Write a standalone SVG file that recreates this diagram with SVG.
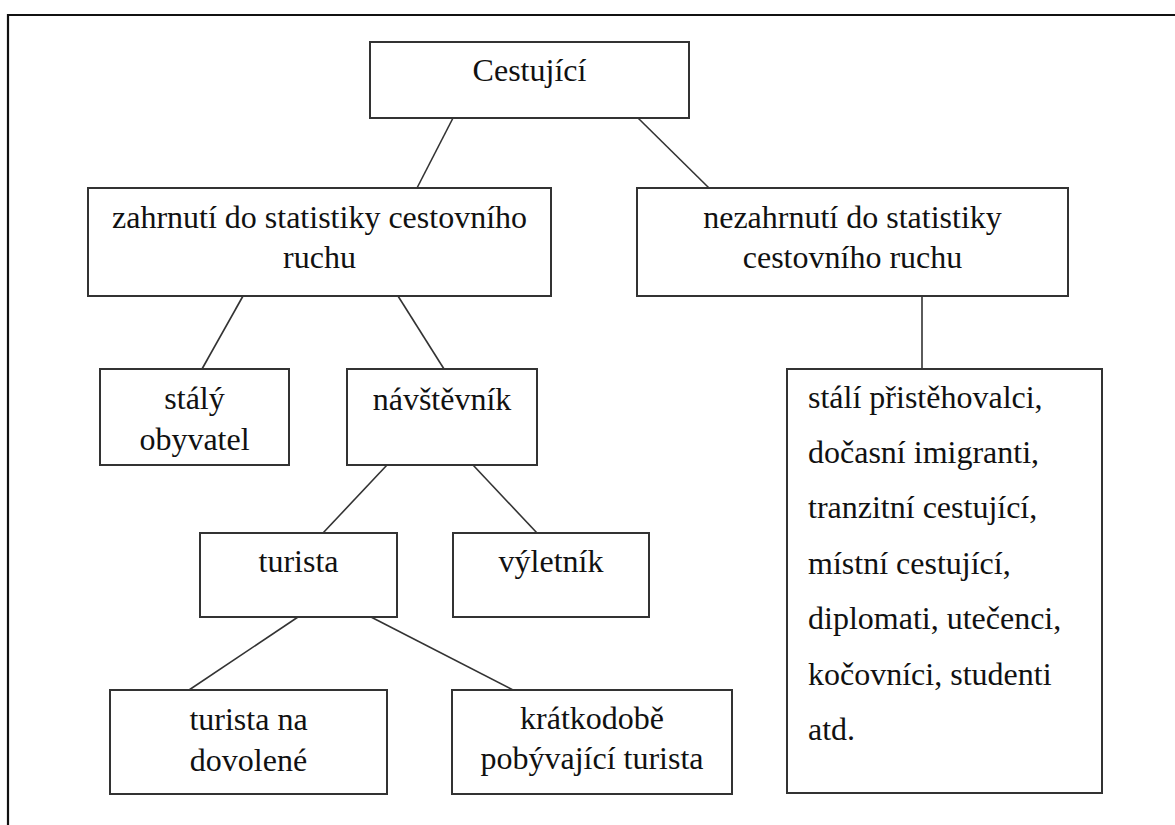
<svg xmlns="http://www.w3.org/2000/svg" width="1175" height="825" viewBox="0 0 1175 825">
<style>
.box{fill:#fff;stroke:#333;stroke-width:2}
.frame{fill:none;stroke:#111;stroke-width:2.2}
.con line{stroke:#333;stroke-width:1.6}
text{font-family:"Liberation Serif","Times New Roman",serif;font-size:32px;fill:#111}
.c{text-anchor:middle}
</style>
<rect width="1175" height="825" fill="#fff"/>
<path class="frame" d="M8,825 V15 H1175"/>
<g id="connectors" class="con">
<line x1="453" y1="118" x2="417" y2="188"/>
<line x1="638" y1="118" x2="709" y2="188"/>
<line x1="243" y1="296" x2="202" y2="369"/>
<line x1="398" y1="296" x2="444" y2="369"/>
<line x1="387" y1="465" x2="323" y2="533"/>
<line x1="473" y1="465" x2="537" y2="533"/>
<line x1="298" y1="617" x2="189" y2="690"/>
<line x1="371" y1="617" x2="513" y2="690"/>
<line x1="922" y1="296" x2="922" y2="369"/>
</g>
<g id="cestujici">
<rect class="box" x="370" y="42" width="319" height="76"/>
<text class="c" x="529.5" y="81">Cestující</text>
</g>
<g id="zahrnuti">
<rect class="box" x="88" y="188" width="463" height="108"/>
<text class="c" x="319.5" y="228">zahrnutí do statistiky cestovního</text>
<text class="c" x="319.5" y="268">ruchu</text>
</g>
<g id="nezahrnuti">
<rect class="box" x="637" y="188" width="431" height="108"/>
<text class="c" x="852.5" y="228">nezahrnutí do statistiky</text>
<text class="c" x="852.5" y="268">cestovního ruchu</text>
</g>
<g id="staly">
<rect class="box" x="100" y="369" width="189" height="96"/>
<text class="c" x="194.5" y="409">stálý</text>
<text class="c" x="194.5" y="450">obyvatel</text>
</g>
<g id="navstevnik">
<rect class="box" x="347" y="369" width="190" height="96"/>
<text class="c" x="442" y="410">návštěvník</text>
</g>
<g id="turista">
<rect class="box" x="200" y="533" width="197" height="84"/>
<text class="c" x="298.5" y="572">turista</text>
</g>
<g id="vyletnik">
<rect class="box" x="453" y="533" width="196" height="84"/>
<text class="c" x="551" y="572">výletník</text>
</g>
<g id="turista-na-dovolene">
<rect class="box" x="110" y="690" width="277" height="104"/>
<text class="c" x="248.5" y="730">turista na</text>
<text class="c" x="248.5" y="771">dovolené</text>
</g>
<g id="kratkodobe">
<rect class="box" x="452" y="690" width="280" height="104"/>
<text class="c" x="592" y="729">krátkodobě</text>
<text class="c" x="592" y="769">pobývající turista</text>
</g>
<g id="seznam">
<rect class="box" x="787" y="369" width="315" height="424"/>
<text x="808" y="408">stálí přistěhovalci,</text>
<text x="808" y="463">dočasní imigranti,</text>
<text x="808" y="518">tranzitní cestující,</text>
<text x="808" y="574">místní cestující,</text>
<text x="808" y="629">diplomati, utečenci,</text>
<text x="808" y="685">kočovníci, studenti</text>
<text x="808" y="740">atd.</text>
</g>
</svg>
